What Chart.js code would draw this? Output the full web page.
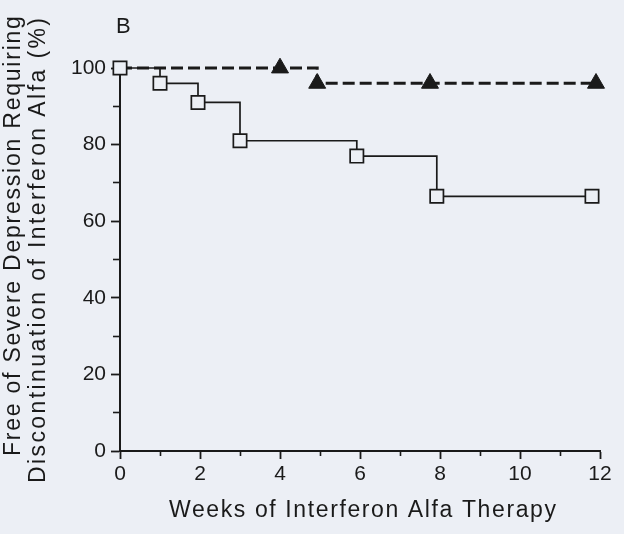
<!DOCTYPE html>
<html>
<head>
<meta charset="utf-8">
<script src="https://cdn.jsdelivr.net/npm/chart.js@4.4.1/dist/chart.umd.min.js"></script>
<style>
  html, body { margin: 0; padding: 0; background: #eceff5; }
  #wrap { width: 624px; height: 534px; position: relative; }
</style>
</head>
<body>
<div id="wrap"><canvas id="c" width="624" height="534"></canvas></div>
<script>
// Weeks and survival (%) — solid curve with open squares
const solidWeeks = [0, 1, 1.95, 3, 5.92, 7.92, 11.8];
const solidValues = [100, 96, 91, 81, 77, 66.5, 66.5];
// Dashed curve with filled triangles
const dashedWeeks = [0, 4, 4.93, 7.75, 11.9];
const dashedValues = [100, 100, 96, 96, 96];
const dashedMarkerShown = [false, true, true, true, true];
// Axis ticks
const xMajorTicks = [0, 2, 4, 6, 8, 10, 12];
const xMinorTicks = [1, 3, 5, 7, 9, 11];
const yMajorTicks = [0, 20, 40, 60, 80, 100];
const yMinorTicks = [10, 30, 50, 70, 90];
const panelLabel = 'B';
const xTitle = 'Weeks of Interferon Alfa Therapy';
const yTitle = ['Free of Severe Depression Requiring', 'Discontinuation of Interferon Alfa (%)'];

const ink = '#1a1a1a';
const paper = '#eceff5';
const FONT = '"Liberation Sans", Arial, Helvetica, sans-serif';

// draw a string with letter spacing chosen so that it spans `span` pixels
function spacedText(ctx, text, x, y, span) {
  ctx.letterSpacing = '0px';
  const w = ctx.measureText(text).width;
  const sp = Math.max(0, (span - w) / Math.max(1, text.length - 1));
  ctx.letterSpacing = sp.toFixed(2) + 'px';
  ctx.fillText(text, x, y);
  ctx.letterSpacing = '0px';
}

const textPlugin = {
  id: 'texts',
  afterDraw(chart) {
    const ctx = chart.ctx;
    ctx.save();
    ctx.fillStyle = ink;
    ctx.textAlign = 'left';
    ctx.textBaseline = 'alphabetic';
    ctx.font = '22px ' + FONT;
    ctx.fillText(panelLabel, 116, 33);

    ctx.font = '23px ' + FONT;
    // x-axis title
    spacedText(ctx, xTitle, 169, 517, 387);

    // y-axis title (two lines, rotated, reading upward)
    const starts = [[19.5, 456, 440], [44.5, 483, 465]];
    yTitle.forEach((line, i) => {
      ctx.save();
      ctx.translate(starts[i][0], starts[i][1]);
      ctx.rotate(-Math.PI / 2);
      spacedText(ctx, line, 0, 0, starts[i][2]);
      ctx.restore();
    });
    ctx.restore();
  }
};

function tickList(values) {
  return values.map(v => ({ value: v }));
}

new Chart(document.getElementById('c'), {
  type: 'scatter',
  data: {
    datasets: [
      {
        data: solidWeeks.map((w, i) => ({ x: w, y: solidValues[i] })),
        showLine: true,
        stepped: 'before',
        borderColor: ink,
        borderWidth: 1.7,
        pointStyle: 'rect',
        pointRadius: 9.4,
        pointBorderWidth: 1.7,
        pointBorderColor: ink,
        pointBackgroundColor: paper,
        clip: false
      },
      {
        data: dashedWeeks.map((w, i) => ({ x: w, y: dashedValues[i] })),
        showLine: true,
        stepped: 'before',
        borderColor: ink,
        borderWidth: 3,
        borderDash: [12, 5],
        pointStyle: 'triangle',
        pointRadius: dashedMarkerShown.map(s => s ? 9.8 : 0),
        pointBorderWidth: 1,
        pointBorderColor: ink,
        pointBackgroundColor: ink,
        clip: false
      }
    ]
  },
  options: {
    responsive: false,
    animation: false,
    layout: { padding: { left: 0, right: 24, top: 68, bottom: 0 } },
    plugins: { legend: { display: false }, tooltip: { enabled: false } },
    scales: {
      x: {
        type: 'linear',
        position: 'bottom',
        weight: 1,
        min: 0, max: 12,
        afterFit(scale) { scale.height = 83; },
        afterBuildTicks(scale) { scale.ticks = tickList(xMajorTicks); },
        border: { display: true, color: ink, width: 2 },
        grid: { drawOnChartArea: false, drawTicks: true, tickLength: 8, tickColor: ink, tickWidth: 1.8 },
        ticks: {
          color: ink,
          font: { family: FONT, size: 21 },
          padding: 3,
          maxRotation: 0,
          autoSkip: false
        }
      },
      xMinor: {
        type: 'linear',
        position: 'bottom',
        weight: 0,
        min: 0, max: 12,
        afterFit(scale) { scale.height = 0; },
        afterBuildTicks(scale) { scale.ticks = tickList(xMinorTicks); },
        border: { display: false },
        grid: { drawOnChartArea: false, drawTicks: true, tickLength: 5, tickColor: ink, tickWidth: 1.6 },
        ticks: { display: false, autoSkip: false }
      },
      y: {
        type: 'linear',
        position: 'left',
        weight: 1,
        min: 0, max: 100,
        afterFit(scale) { scale.width = 120; },
        afterBuildTicks(scale) { scale.ticks = tickList(yMajorTicks); },
        border: { display: true, color: ink, width: 2 },
        grid: { drawOnChartArea: false, drawTicks: true, tickLength: 9, tickColor: ink, tickWidth: 1.8 },
        ticks: {
          color: ink,
          font: { family: FONT, size: 21 },
          padding: 5,
          autoSkip: false
        }
      },
      yMinor: {
        type: 'linear',
        position: 'left',
        weight: 0,
        min: 0, max: 100,
        afterFit(scale) { scale.width = 0; },
        afterBuildTicks(scale) { scale.ticks = tickList(yMinorTicks); },
        border: { display: false },
        grid: { drawOnChartArea: false, drawTicks: true, tickLength: 7, tickColor: ink, tickWidth: 1.6 },
        ticks: { display: false, autoSkip: false }
      }
    }
  },
  plugins: [textPlugin]
});
</script>
</body>
</html>
